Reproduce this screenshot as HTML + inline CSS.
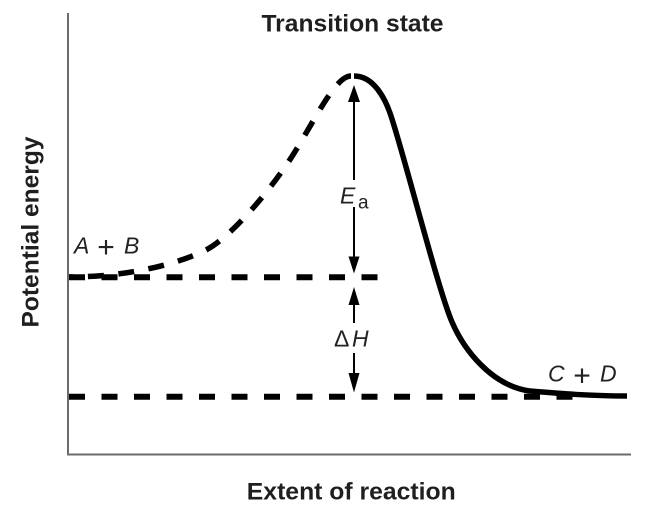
<!DOCTYPE html>
<html>
<head>
<meta charset="utf-8">
<style>
  html, body { margin: 0; padding: 0; background: #ffffff; }
  svg { display: block; }
  .bold { font-family: "Liberation Sans", Arial, sans-serif; font-weight: bold; font-size: 24.5px; fill: #1f1f1f; }
  .lab { font-family: "Liberation Sans", Arial, sans-serif; font-size: 23px; fill: #222222; }
  .it { font-style: italic; }
</style>
</head>
<body>
<svg width="650" height="512" viewBox="0 0 650 512" xmlns="http://www.w3.org/2000/svg">
  <rect x="0" y="0" width="650" height="512" fill="#ffffff"/>

  <!-- axes -->
  <line x1="68" y1="13" x2="68" y2="455" stroke="#6b6b6b" stroke-width="2"/>
  <line x1="67" y1="454.5" x2="631" y2="454.5" stroke="#6b6b6b" stroke-width="2"/>

  <!-- axis labels / title -->
  <text class="bold" x="352.5" y="31.5" text-anchor="middle" textLength="182" lengthAdjust="spacingAndGlyphs">Transition state</text>
  <text class="bold" x="351.3" y="499.3" text-anchor="middle" textLength="209" lengthAdjust="spacingAndGlyphs">Extent of reaction</text>
  <text class="bold" transform="translate(38.5,232) rotate(-90)" x="0" y="0" text-anchor="middle" textLength="191" lengthAdjust="spacingAndGlyphs">Potential energy</text>

  <!-- horizontal dashed levels -->
  <line x1="69" y1="277.3" x2="378" y2="277.3" stroke="#000" stroke-width="6" stroke-dasharray="16 16.5"/>
  <line x1="69" y1="396.7" x2="585" y2="396.7" stroke="#000" stroke-width="6" stroke-dasharray="16 16.5"/>

  <!-- dashed rising curve (drawn from peak backwards) -->
  <path d="M351,76 C335,76 315,120.4 291,158 C271,189 232,236.5 206,250 C180,263 130,277 69,277"
        fill="none" stroke="#000" stroke-width="5.5" stroke-dasharray="16 14.5"/>

  <!-- solid falling curve -->
  <path d="M354,76 C374,76 385,99 390,113 C402,146.6 438,290 452,322 C464,350 492,386 530,391 C560,393.5 590,396 627,396"
        fill="none" stroke="#000" stroke-width="5.5"/>

  <!-- Ea arrow -->
  <line x1="354" y1="100" x2="354" y2="180" stroke="#000" stroke-width="2"/>
  <line x1="354" y1="207" x2="354" y2="259" stroke="#000" stroke-width="2"/>
  <polygon points="354,85 348,102 360,102" fill="#000"/>
  <polygon points="354,273.5 348.5,256.5 359.5,256.5" fill="#000"/>

  <!-- ΔH arrow -->
  <line x1="354" y1="303" x2="354" y2="323" stroke="#000" stroke-width="2"/>
  <line x1="354" y1="353" x2="354" y2="375" stroke="#000" stroke-width="2"/>
  <polygon points="354,287 348.5,305 359.5,305" fill="#000"/>
  <polygon points="354,392.5 348.5,373 359.5,373" fill="#000"/>

  <!-- labels -->
  <text class="lab it" x="74" y="253.3">A</text>
  <text class="lab" x="106" y="257" text-anchor="middle" style="font-size:30px">+</text>
  <text class="lab it" x="124" y="253.3">B</text>

  <text class="lab it" x="548" y="381.7">C</text>
  <text class="lab" x="582" y="385.5" text-anchor="middle" style="font-size:30px">+</text>
  <text class="lab it" x="600" y="381.7">D</text>

  <text class="lab it" x="340" y="203.5">E</text>
  <text class="lab" x="358" y="208.5" style="font-size:19px">a</text>

  <text class="lab" x="334" y="346.7">Δ</text>
  <text class="lab it" x="352" y="346.7">H</text>
</svg>
</body>
</html>
